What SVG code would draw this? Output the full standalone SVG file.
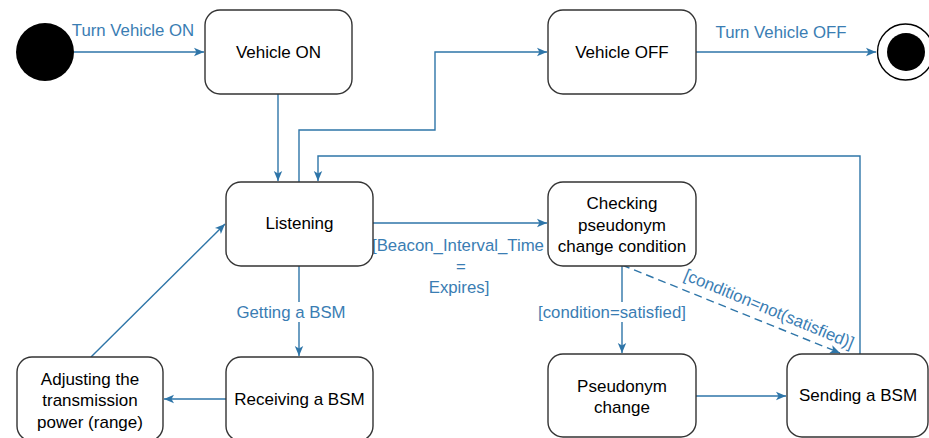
<svg xmlns="http://www.w3.org/2000/svg" width="929" height="438" viewBox="0 0 929 438">
<defs>
<marker id="arr" viewBox="0 0 10 10" refX="10" refY="5" markerWidth="10" markerHeight="10" markerUnits="userSpaceOnUse" orient="auto">
<path d="M0,0.8 L10,5 L0,9.2 L2.5,5 Z" fill="#2E75A8"/>
</marker>
<style>
.node rect{fill:#fff;stroke:#333;stroke-width:1.4}
.node text{font-family:"Liberation Sans",Arial,sans-serif;font-size:17px;fill:#000;text-anchor:middle;dominant-baseline:central}
.edge{fill:none;stroke:#2E75A8;stroke-width:1.4}
.lbl{font-family:"Liberation Sans",Arial,sans-serif;font-size:16.8px;fill:#3A7DB3;text-anchor:middle;dominant-baseline:central}
</style>
</defs>
<rect width="929" height="438" fill="#fff"/>
<g id="connectors">
<path class="edge" d="M74,52 H204" marker-end="url(#arr)"/>
<text class="lbl" x="133" y="30">Turn Vehicle ON</text>
<path class="edge" d="M278,94 V181" marker-end="url(#arr)"/>
<path class="edge" d="M299,182 V130 H435 V52 H547" marker-end="url(#arr)"/>
<path class="edge" d="M696,52 H876" marker-end="url(#arr)"/>
<text class="lbl" x="781" y="32">Turn Vehicle OFF</text>
<path class="edge" d="M373,223 H547" marker-end="url(#arr)"/>
<text class="lbl" x="458" y="245">[Beacon_Interval_Time</text>
<text class="lbl" x="461" y="266">=</text>
<text class="lbl" x="459" y="287">Expires]</text>
<path class="edge" d="M299,266 V356" marker-end="url(#arr)"/>
<rect x="232" y="302" width="120" height="20" fill="#fff"/>
<text class="lbl" x="291" y="312">Getting a BSM</text>
<path class="edge" d="M226,399 H164" marker-end="url(#arr)"/>
<path class="edge" d="M91,357 L225,224" marker-end="url(#arr)"/>
<path class="edge" d="M622,266 V353" marker-end="url(#arr)"/>
<rect x="535" y="302" width="154" height="20" fill="#fff"/>
<text class="lbl" x="612" y="312">[condition=satisfied]</text>
<path class="edge" d="M622,265 L840,353" stroke-dasharray="8,5" marker-end="url(#arr)"/>
<text class="lbl" x="769" y="309" transform="rotate(22.5 769 309)">[condition=not(satisfied)]</text>
<path class="edge" d="M696,396 H786" marker-end="url(#arr)"/>
<path class="edge" d="M860,354 V156 H318 V181" marker-end="url(#arr)"/>
</g>
<g id="initial"><circle cx="45" cy="52" r="29" fill="#000"/></g>
<g id="final"><circle cx="905.5" cy="52" r="28" fill="#fff" stroke="#000" stroke-width="1.4"/><circle cx="906" cy="52" r="19" fill="#000"/></g>
<g id="vehicle-on" class="node"><rect x="205" y="10" width="147" height="84" rx="15"/><text x="278.5" y="52">Vehicle ON</text></g>
<g id="vehicle-off" class="node"><rect x="548" y="10" width="148" height="84" rx="15"/><text x="622" y="52">Vehicle OFF</text></g>
<g id="listening" class="node"><rect x="226" y="182" width="147" height="84" rx="15"/><text x="299.5" y="223">Listening</text></g>
<g id="checking" class="node"><rect x="548" y="182" width="148" height="84" rx="15"/><text x="622" y="203">Checking</text><text x="622" y="225">pseudonym</text><text x="622" y="246">change condition</text></g>
<g id="receiving" class="node"><rect x="226" y="357" width="147" height="84" rx="15"/><text x="299.5" y="399">Receiving a BSM</text></g>
<g id="adjusting" class="node"><rect x="17" y="357" width="146" height="84" rx="15"/><text x="90" y="379">Adjusting the</text><text x="90" y="400">transmission</text><text x="90" y="422">power (range)</text></g>
<g id="pseudonym" class="node"><rect x="548" y="354" width="148" height="83" rx="15"/><text x="622" y="386">Pseudonym</text><text x="622" y="407">change</text></g>
<g id="sending" class="node"><rect x="787" y="354" width="141" height="83" rx="15"/><text x="858" y="395">Sending a BSM</text></g>
</svg>
